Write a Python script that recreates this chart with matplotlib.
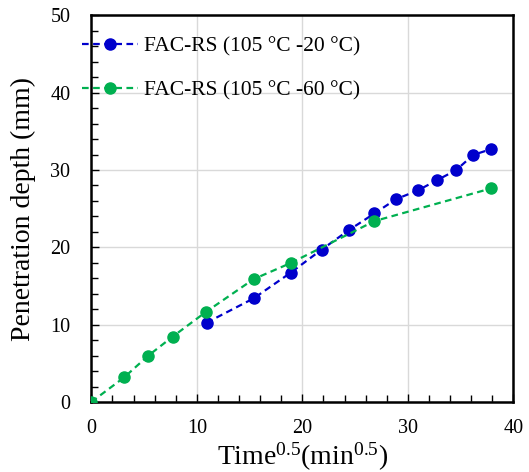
import matplotlib
matplotlib.use("Agg")
import matplotlib.pyplot as plt
from matplotlib.ticker import MultipleLocator

plt.rcParams["font.family"] = ["Liberation Serif", "DejaVu Serif"]
plt.rcParams["mathtext.fontset"] = "custom"
plt.rcParams["mathtext.rm"] = "Liberation Serif"
plt.rcParams["mathtext.it"] = "Liberation Serif:italic"

# Square root of time (min^0.5) vs penetration depth (mm)
t_20 = [10.92, 15.39, 18.89, 21.83, 24.41, 26.84, 28.89, 30.94, 32.77, 34.57, 36.21, 37.88]
d_20 = [10.25, 13.40, 16.71, 19.70, 22.22, 24.38, 26.23, 27.35, 28.68, 29.97, 31.95, 32.69]

t_60 = [0.0, 3.12, 5.39, 7.70, 10.85, 15.39, 18.89, 26.84, 37.88]
d_60 = [0.0, 3.19, 5.98, 8.44, 11.63, 15.89, 17.96, 23.39, 27.61]

label_20 = "FAC-RS (105 °C -20 °C)"
label_60 = "FAC-RS (105 °C -60 °C)"

W, H = 529, 472
fig = plt.figure(figsize=(W / 100, H / 100), dpi=100)
ax = fig.add_axes([91.3 / W, 1 - 402 / H, (513.3 - 91.3) / W, (402 - 15.3) / H])

ax.plot(t_20, d_20, linestyle="--", color="#0000CC", marker="o", markersize=8,
        linewidth=1.6, dashes=(3, 2), label=label_20, zorder=3)
ax.plot(t_60, d_60, linestyle="--", color="#00B050", marker="o", markersize=8,
        linewidth=1.6, dashes=(3, 2), label=label_60, zorder=3)

ax.set_xlim(0, 40)
ax.set_ylim(0, 50)
ax.xaxis.set_major_locator(MultipleLocator(10))
ax.yaxis.set_major_locator(MultipleLocator(10))
ax.xaxis.set_minor_locator(MultipleLocator(2))
ax.yaxis.set_minor_locator(MultipleLocator(2))
ax.grid(True, which="major", color="#d9d9d9", linewidth=1.0, zorder=0)
ax.set_axisbelow(True)

for sp in ax.spines.values():
    sp.set_linewidth(1.8)
    sp.set_color("black")

ax.tick_params(which="major", direction="in", length=6, width=1.0,
               labelsize=14.5, colors="black")
ax.tick_params(which="minor", direction="in", length=5, width=1.0)
ax.tick_params(axis="x", pad=12)
ax.tick_params(axis="y", pad=15)

ax.set_xlabel(r"Time$^{0.5}$(min$^{0.5}$)", fontsize=20, labelpad=2)
ax.set_ylabel("Penetration depth (mm)", fontsize=20, labelpad=10)

leg = ax.legend(loc="upper left", bbox_to_anchor=(82 / W, 1 - 36 / H),
                bbox_transform=fig.transFigure, frameon=False, fontsize=15.5,
                handlelength=2.6, handletextpad=0.3, labelspacing=1.15,
                borderpad=0, borderaxespad=0)

fig.savefig("out.png", dpi=100)
